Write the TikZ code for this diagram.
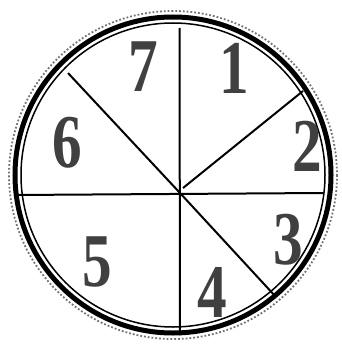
\documentclass[tikz,border=0pt]{standalone}
\usepackage{fontspec}
\setmainfont{Liberation Serif}
\begin{document}
\begin{tikzpicture}[x=1pt,y=-1pt,
  spoke/.style={line width=2pt,black},
  digit/.style={inner sep=0pt,text=black!75,font=\fontsize{76}{76}\selectfont\bfseries,xscale=0.78}]
\useasboundingbox (0,0) rectangle (341,345);
\fill[white] (0,0) rectangle (341,345);
\coordinate (c) at (173,175);
\coordinate (m) at (180,193);
% rings
\draw[black!55,line width=1.8pt,dotted] (c) circle[radius=164];
\draw[line width=5pt] (c) circle[radius=158];
\draw[line width=1.5pt] (c) circle[radius=152];
% spoke ends
\coordinate (top) at (179.5,28);
\coordinate (bot) at (180,335);
\coordinate (lft) at (15,195);
\coordinate (rgt) at (323,193);
\coordinate (ul) at (68,73);
\coordinate (ur) at (303,91);
\coordinate (urs) at (183,188);
\coordinate (lr) at (276,297);
\draw[spoke] (top) -- (bot);
\draw[spoke] (lft) -- (rgt);
\draw[spoke] (ul) -- (m);
\draw[spoke] (urs) -- (ur);
\draw[spoke] (m) -- (lr);
% digits
\node[digit] (n1) at (234,68) {1};
\node[digit] (n2) at (307,146) {2};
\node[digit] (n3) at (288,240) {3};
\node[digit] (n4) at (212,292) {4};
\node[digit] (n5) at (97,262) {5};
\node[digit] (n6) at (67,143) {6};
\node[digit] (n7) at (143,67) {7};
\end{tikzpicture}
\end{document}
